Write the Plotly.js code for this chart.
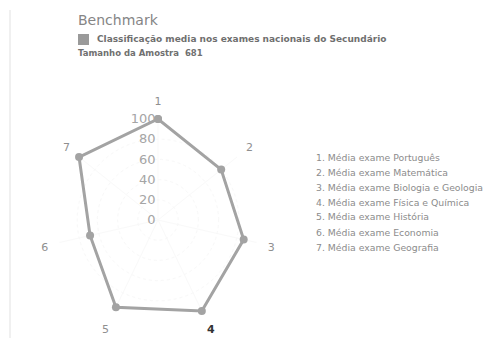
<!DOCTYPE html>
<html>
<head>
<meta charset="utf-8">
<script src="https://cdn.plot.ly/plotly-3.0.1.min.js"></script>
<style>
html,body{margin:0;padding:0;background:#ffffff;}
#chart{width:483px;height:340px;}
</style>
</head>
<body>
<div id="chart"></div>
<script>
const categories = ["1", "2", "3", "4", "5", "6", "7"];
const values = [100, 80, 87, 100, 96, 69, 100];
const radialTicks = [0, 20, 40, 60, 80, 100];
const legendItems = [
  "1. Média exame Português",
  "2. Média exame Matemática",
  "3. Média exame Biologia e Geologia",
  "4. Média exame Física e Química",
  "5. Média exame História",
  "6. Média exame Economia",
  "7. Média exame Geografia"
];
const titleText = "Benchmark";
const seriesName = "Classificação media nos exames nacionais do Secundário";
const sampleText = "Tamanho da Amostra  681";

const FONT = "DejaVu Sans, Verdana, sans-serif";
const W = 483, H = 340;
const px = x => x / W;
const py = y => 1 - y / H;

const angTickText = categories.map(c => c === "4" ? "<b><span style='color:#333'>" + c + "</span></b>" : c);

const trace = {
  type: "scatterpolar",
  r: values.concat([values[0]]),
  theta: categories.concat([categories[0]]),
  mode: "lines+markers",
  line: {color: "#a3a3a3", width: 3},
  marker: {color: "#a3a3a3", size: 8},
  name: seriesName,
  showlegend: false,
  hoverinfo: "skip"
};

const annotations = [
  {text: titleText, x: px(76), y: py(20), xref: "paper", yref: "paper", xanchor: "left", yanchor: "middle", showarrow: false,
   font: {family: FONT, size: 14, color: "#858585"}},
  {text: "<b>" + seriesName + "</b>", x: px(95), y: py(39), xref: "paper", yref: "paper", xanchor: "left", yanchor: "middle", showarrow: false,
   font: {family: FONT, size: 9, color: "#6f6f6f"}},
  {text: "<b>" + sampleText + "</b>", x: px(76), y: py(53), xref: "paper", yref: "paper", xanchor: "left", yanchor: "middle", showarrow: false,
   font: {family: FONT, size: 8.5, color: "#707070"}}
];
legendItems.forEach((t, i) => {
  annotations.push({text: t, x: px(314), y: py(157 + i * 15), xref: "paper", yref: "paper", xanchor: "left", yanchor: "middle", showarrow: false,
    font: {family: FONT, size: 9.3, color: "#8c8c8c"}});
});

const layout = {
  width: W, height: H,
  margin: {l: 0, r: 0, t: 0, b: 0},
  paper_bgcolor: "#ffffff",
  showlegend: false,
  font: {family: FONT},
  polar: {
    domain: {x: [px(57), px(259)], y: [19 / H, 221 / H]},
    bgcolor: "rgba(0,0,0,0)",
    radialaxis: {
      range: [0, 100], tickvals: radialTicks, angle: 90, side: "counterclockwise",
      tickangle: 90,
      showline: false, ticks: "", showgrid: true, gridcolor: "#f8f8f8", griddash: "dot",
      tickfont: {family: FONT, size: 13, color: "#a5a5a5"}
    },
    angularaxis: {
      type: "category", categoryarray: categories, tickvals: categories, ticktext: angTickText,
      direction: "clockwise", rotation: 90,
      showline: false, ticks: "outside", ticklen: 9, tickcolor: "rgba(0,0,0,0)",
      showgrid: true, gridcolor: "#f9f9f9",
      tickfont: {family: FONT, size: 11, color: "#8f8f8f"}
    }
  },
  shapes: [
    {type: "rect", xref: "paper", yref: "paper", x0: px(78), x1: px(89), y0: py(45), y1: py(34),
     fillcolor: "#9a9a9a", line: {width: 0}},
    {type: "line", xref: "paper", yref: "paper", x0: px(10), x1: px(10), y0: py(10), y1: py(338),
     line: {color: "#f0f0f0", width: 2}}
  ],
  annotations: annotations
};

Plotly.newPlot("chart", [trace], layout, {staticPlot: true, displayModeBar: false});
</script>
</body>
</html>
